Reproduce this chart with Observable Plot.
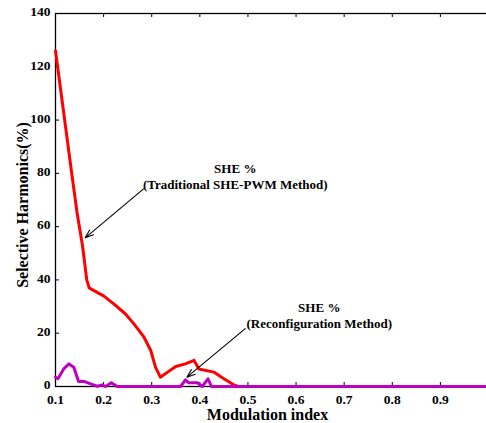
<!DOCTYPE html>
<html><head><meta charset="utf-8">
<script src="https://cdn.jsdelivr.net/npm/d3@7"></script>
<script src="https://cdn.jsdelivr.net/npm/@observablehq/plot@0.6"></script>
<style>
body{margin:0;background:#fff}
#chart svg text{font-family:"Liberation Serif","Times New Roman",serif !important;font-weight:bold !important;fill:#000}
</style>
</head><body><div id="chart"></div>
<script>
// Traditional SHE-PWM method (red)
const traditionalX = [0.100, 0.133, 0.145, 0.156, 0.165, 0.170, 0.180, 0.200, 0.221, 0.245, 0.263, 0.284, 0.298, 0.308, 0.318, 0.333, 0.350, 0.370, 0.388, 0.398, 0.429, 0.450, 0.472, 0.480, 1.000];
const traditionalY = [126, 81, 65, 53, 40, 37, 36, 34, 31, 27.3, 23.5, 18.5, 13.5, 7.2, 3.5, 5.4, 7.5, 8.5, 9.8, 6.6, 5.4, 2.9, 0.5, 0, 0];
// Reconfiguration method (purple)
const reconfigX = [0.100, 0.105, 0.117, 0.128, 0.138, 0.148, 0.159, 0.173, 0.187, 0.197, 0.204, 0.216, 0.228, 0.360, 0.370, 0.377, 0.395, 0.405, 0.417, 0.424, 1.000];
const reconfigY = [3.5, 2.9, 6.6, 8.5, 7.2, 1.9, 1.9, 1.0, 0.1, 0.6, 0, 1.4, 0, 0, 2.5, 1.4, 1.4, 0, 2.9, 0, 0];

const xTicks = [0.1, 0.2, 0.3, 0.4, 0.5, 0.6, 0.7, 0.8, 0.9];
const yTicks = [0, 20, 40, 60, 80, 100, 120, 140];
const xLabel = "Modulation index";
const yLabel = "Selective Harmonics(%)";

const annotationLabels = ["SHE %\n(Traditional SHE-PWM Method)", "SHE %\n(Reconfiguration Method)"];
const annotationX = [0.4736, 0.6482];
const annotationY = [79.1, 26.9];
const arrowX1 = [0.283, 0.4944];
const arrowY1 = [74.2, 21.7];
const arrowX2 = [0.1617, 0.3732];
const arrowY2 = [55.8, 3.5];

const trad = traditionalX.map((x, i) => ({x, y: traditionalY[i]}));
const reco = reconfigX.map((x, i) => ({x, y: reconfigY[i]}));
const annots = annotationLabels.map((t, i) => ({t, x: annotationX[i], y: annotationY[i]}));
const arrows = arrowX1.map((x1, i) => ({x1, y1: arrowY1[i], x2: arrowX2[i], y2: arrowY2[i]}));

const W = 486, H = 423, ML = 55, MT = 13, MB = 37, MR = -2;
const innerH = H - MT - MB, innerW = W - ML - MR;
const font = "Liberation Serif";
const txt = {fontFamily: font, fontWeight: "bold", fill: "#000"};

const chart = Plot.plot({
  width: W, height: H,
  marginLeft: ML, marginTop: MT, marginBottom: MB, marginRight: MR,
  style: {fontFamily: font, fontWeight: "bold", fontSize: "13px", background: "#fff", color: "#000"},
  x: {domain: [0.1, 1.0], axis: null},
  y: {domain: [0, 140], axis: null},
  marks: [
    Plot.frame({stroke: "#000", strokeWidth: 1.3}),
    // inward ticks
    Plot.ruleX(xTicks, {x: d => d, insetTop: innerH - 4, stroke: "#000"}),
    Plot.ruleX(xTicks, {x: d => d, insetBottom: innerH - 4, stroke: "#000"}),
    Plot.ruleY(yTicks, {y: d => d, insetRight: innerW - 4, stroke: "#000"}),
    Plot.line(trad, {x: "x", y: "y", stroke: "#ff0000", strokeWidth: 3, strokeLinejoin: "round"}),
    Plot.line(reco, {x: "x", y: "y", stroke: "#bf00bf", strokeWidth: 3, strokeLinejoin: "round"}),
    Plot.arrow(arrows, {x1: "x1", y1: "y1", x2: "x2", y2: "y2", stroke: "#000", strokeWidth: 1.1, headLength: 12, headAngle: 40}),
    Plot.text(annots, {x: "x", y: "y", text: "t", fontSize: 13, lineHeight: 1.2, ...txt}),
    Plot.axisX(xTicks, {tickSize: 0, tickPadding: 8, tickFormat: d3.format(".1f"), fontSize: 13.5, label: null, ...txt}),
    Plot.axisY(yTicks, {tickSize: 0, tickPadding: 5, tickFormat: d => String(d), fontSize: 13.5, dy: -1.5, label: null, ...txt}),
    Plot.text([xLabel], {text: d => d, frameAnchor: "bottom", lineAnchor: "middle", textAnchor: "middle", dx: -4.5, dy: 28.4, fontSize: 16, ...txt}),
    Plot.text([yLabel], {text: d => d, frameAnchor: "left", lineAnchor: "middle", textAnchor: "middle", rotate: -90, dx: -33, dy: 5, fontSize: 16, ...txt})
  ]
});
document.getElementById("chart").appendChild(chart);
</script>
</body></html>
